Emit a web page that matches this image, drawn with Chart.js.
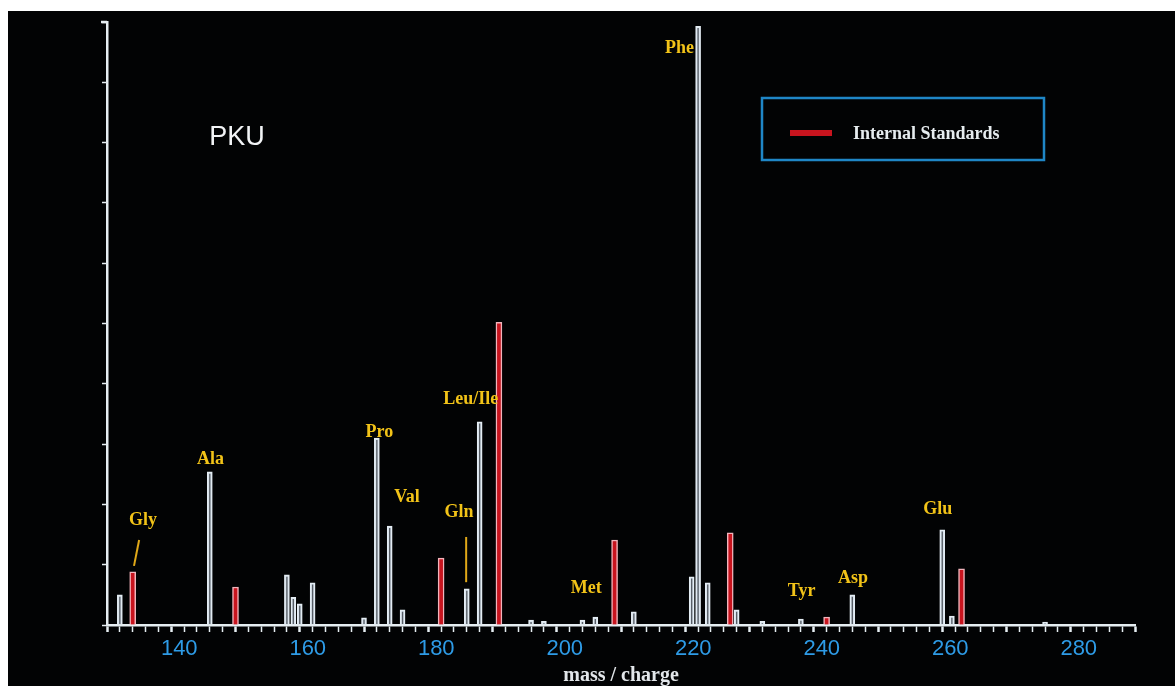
<!DOCTYPE html>
<html>
<head>
<meta charset="utf-8">
<title>PKU</title>
<script src="https://cdn.jsdelivr.net/npm/chart.js@4.4.1/dist/chart.umd.min.js"></script>
<style>
  html, body { margin: 0; padding: 0; background: #fff; }
  canvas { display: block; }
</style>
</head>
<body>
<canvas id="spectrum" width="1175" height="686"></canvas>
<script>
// m/z of the sample peaks and their height (% of Phe)
var sampleMass = [132, 146, 158, 159, 160, 162, 170, 172, 174, 176, 186, 188, 196, 198, 204, 206, 212, 221, 222, 223.5, 228, 232, 238, 246, 260, 261.5, 276];
var sampleHeight = [5.0, 25.4, 8.3, 4.6, 3.5, 7.0, 1.2, 31.0, 16.4, 2.5, 6.0, 33.7, 0.8, 0.6, 0.8, 1.3, 2.2, 8.0, 99.3, 7.0, 2.5, 0.6, 1.0, 5.0, 15.8, 1.5, 0.5];

// internal standards (red)
var standardMass = [134, 150, 182, 191, 209, 227, 242, 263];
var standardHeight = [8.8, 6.3, 11.1, 50.2, 14.1, 15.3, 1.3, 9.3];

// names written over the peaks, anchored at (m/z, height)
var peakNames = ['Gly', 'Ala', 'Pro', 'Val', 'Gln', 'Leu/Ile', 'Met', 'Phe', 'Tyr', 'Asp', 'Glu'];
var nameMass = [135.6, 146.1, 172.4, 176.7, 184.8, 186.6, 204.6, 219.1, 238.1, 246.1, 259.3];
var nameHeight = [17.4, 27.4, 32.0, 21.1, 18.6, 37.5, 6.1, 95.7, 5.6, 7.8, 19.1];

// little leader lines: m/z from, height from, m/z to, height to
var leaders = [[135.0, 14.1, 134.2, 9.8], [185.9, 14.6, 185.9, 7.1]];

var xLabels = [140, 160, 180, 200, 220, 240, 260, 280];

function toPoints(xs, ys) {
    return xs.map(function (x, i) { return { x: x, y: ys[i] }; });
}

var textPlugin = {
    id: 'extraText',
    beforeDraw: function (chart) {
        var c = chart.ctx;
        c.save();
        c.fillStyle = '#ffffff';
        c.fillRect(0, 0, chart.width, chart.height);
        c.fillStyle = '#020304';
        c.fillRect(8, 11, chart.width - 8, chart.height - 11);
        c.restore();
    },
    afterDraw: function (chart) {
        var c = chart.ctx;
        var xs = chart.scales.x, ys = chart.scales.y;
        c.save();

        // peak names
        c.font = 'bold 18px "Liberation Serif", "Times New Roman", serif';
        c.fillStyle = '#f2c318';
        c.textAlign = 'center';
        c.textBaseline = 'middle';
        for (var i = 0; i < peakNames.length; i++) {
            c.fillText(peakNames[i], xs.getPixelForValue(nameMass[i]), ys.getPixelForValue(nameHeight[i]));
        }
        c.strokeStyle = '#e0a818';
        c.lineWidth = 2;
        leaders.forEach(function (l) {
            c.beginPath();
            c.moveTo(xs.getPixelForValue(l[0]), ys.getPixelForValue(l[1]));
            c.lineTo(xs.getPixelForValue(l[2]), ys.getPixelForValue(l[3]));
            c.stroke();
        });

        // PKU
        c.font = '27px "Liberation Sans", Arial, sans-serif';
        c.fillStyle = '#f2f4f6';
        c.fillText('PKU', 237, 138);

        // little hook on top of the y axis
        c.strokeStyle = '#e6eef2';
        c.lineWidth = 2.5;
        c.beginPath();
        c.moveTo(chart.chartArea.left - 6, chart.chartArea.top);
        c.lineTo(chart.chartArea.left, chart.chartArea.top);
        c.stroke();

        // legend box
        c.strokeStyle = '#1f86c6';
        c.lineWidth = 2.5;
        c.strokeRect(762, 98, 282, 62);
        c.strokeStyle = '#c8141e';
        c.lineWidth = 6;
        c.beginPath();
        c.moveTo(790, 133);
        c.lineTo(832, 133);
        c.stroke();
        c.font = 'bold 18px "Liberation Serif", "Times New Roman", serif';
        c.fillStyle = '#e6ecef';
        c.textAlign = 'left';
        c.fillText(chart.data.datasets[1].label, 853, 134);

        c.restore();
    }
};

var ctx = document.getElementById('spectrum').getContext('2d');
var chart = new Chart(ctx, {
    type: 'bar',
    data: {
        datasets: [
            {
                label: 'Sample',
                data: toPoints(sampleMass, sampleHeight),
                backgroundColor: 'rgba(190,205,220,0.45)',
                borderColor: '#e4edf4',
                borderWidth: 1.5,
                barThickness: 5,
                grouped: false
            },
            {
                label: 'Internal Standards',
                data: toPoints(standardMass, standardHeight),
                backgroundColor: '#c8141e',
                borderColor: '#f2b4bc',
                borderWidth: 1.5,
                barThickness: 6,
                grouped: false
            }
        ]
    },
    options: {
        responsive: false,
        animation: false,
        layout: { padding: { left: 107, top: 22, right: 40, bottom: 0 } },
        plugins: {
            legend: { display: false },
            tooltip: { enabled: false }
        },
        scales: {
            x: {
                type: 'linear',
                min: 130,
                max: 290,
                offset: false,
                afterFit: function (s) { s.height = 61; },
                border: { color: '#e6eef2', width: 2.5 },
                grid: {
                    offset: false,
                    drawOnChartArea: false,
                    tickLength: 7,
                    tickColor: '#e6eef2',
                    tickWidth: function (c) { return c.tick && c.tick.value % 10 === 0 ? 2.5 : 1.5; }
                },
                ticks: {
                    stepSize: 2,
                    autoSkip: false,
                    maxRotation: 0,
                    padding: 4,
                    labelOffset: 8,
                    color: '#2e9be6',
                    font: { family: '"Liberation Sans", Arial, sans-serif', size: 22 },
                    callback: function (v) { return xLabels.indexOf(v) >= 0 ? String(v) : ''; }
                },
                title: {
                    display: true,
                    text: 'mass / charge',
                    color: '#e2e6ea',
                    padding: 0,
                    font: { family: '"Liberation Serif", "Times New Roman", serif', size: 20, weight: 'bold', lineHeight: 1.0 }
                }
            },
            y: {
                min: 0,
                max: 100,
                afterFit: function (s) { s.width = 0; },
                border: { color: '#e6eef2', width: 2.5 },
                grid: {
                    drawOnChartArea: false,
                    tickLength: 5,
                    tickColor: '#e6eef2',
                    tickWidth: 1.5
                },
                ticks: { stepSize: 10, display: false }
            }
        }
    },
    plugins: [textPlugin]
});
</script>
</body>
</html>
